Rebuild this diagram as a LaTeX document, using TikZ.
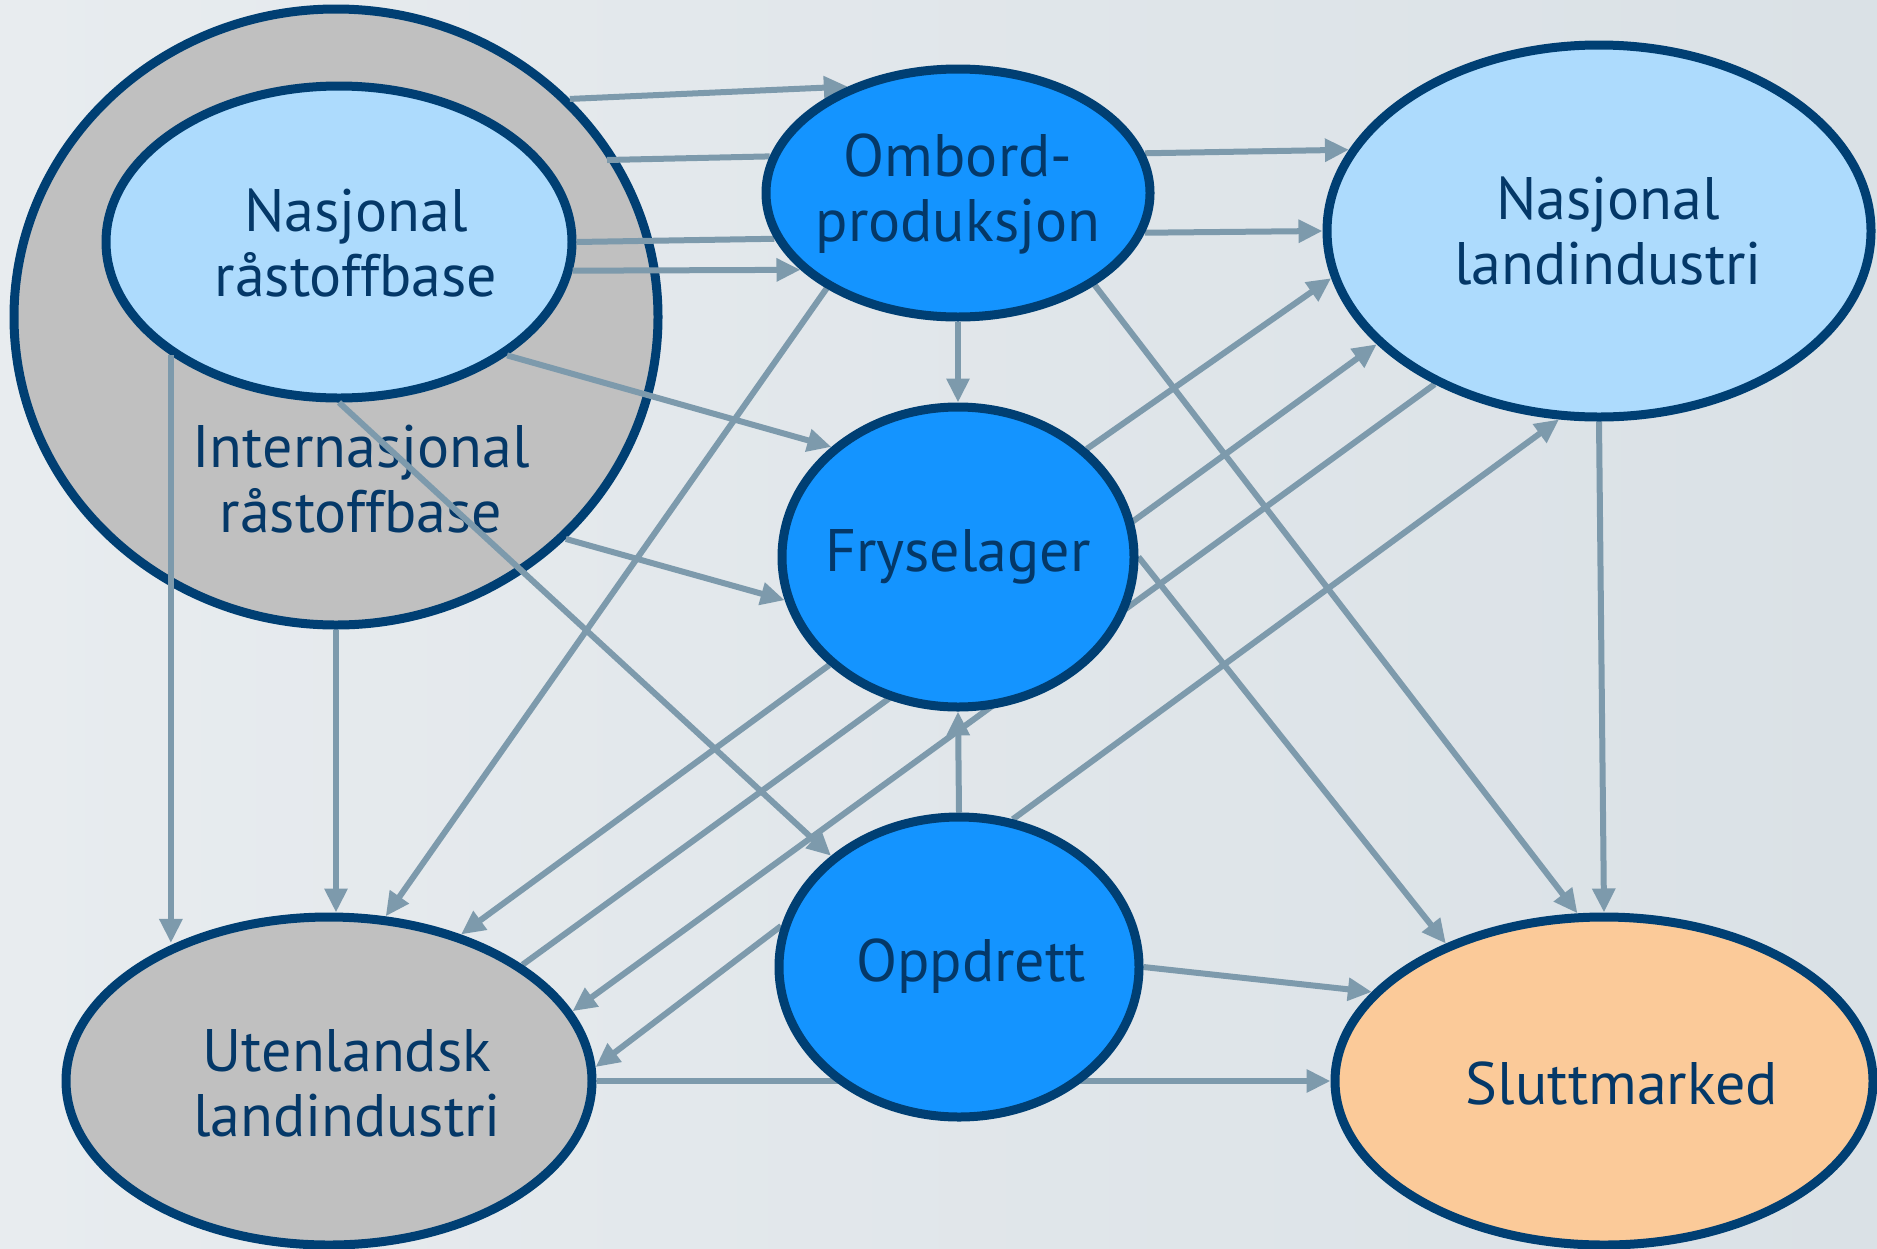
\documentclass[tikz,border=0pt]{standalone}
\usepackage{fontspec}
\setmainfont{PT Sans}
\usetikzlibrary{shapes.geometric,arrows.meta}
\pgfdeclarelayer{bg}
\pgfdeclarelayer{low}
\pgfdeclarelayer{mid}
\pgfsetlayers{bg,low,mid,main}
\definecolor{navy}{RGB}{0,63,115}
\definecolor{greyfill}{RGB}{192,192,192}
\definecolor{lightblue}{RGB}{173,219,253}
\definecolor{midblue}{RGB}{20,148,255}
\definecolor{peach}{RGB}{251,202,153}
\definecolor{link}{RGB}{125,154,172}
\definecolor{txt}{RGB}{4,56,104}
\definecolor{bgleft}{RGB}{232,236,239}
\definecolor{bgmid}{RGB}{247,248,249}
\definecolor{bgright}{RGB}{218,225,230}
\begin{document}
\begin{tikzpicture}[x=0.5pt,y=-0.5pt,
  blob/.style={ellipse, draw=navy, line width=4.5pt, inner sep=0pt},
  lbl/.style={text=txt, font=\fontsize{30}{32.5}\selectfont, align=center, inner sep=0pt},
  conn/.style={draw=link, line width=3pt, -{Triangle[length=12pt,width=11pt]}},
  plainconn/.style={draw=link, line width=3pt}]
\begin{pgfonlayer}{bg}
\shade[left color=bgleft, middle color=bgmid, right color=bgright] (0,0) rectangle (1877,1248);
\end{pgfonlayer}
\useasboundingbox (0,0) rectangle (1877,1248);
\begin{pgfonlayer}{low}
\node[blob, fill=greyfill, minimum width=322pt, minimum height=308pt] (intl) at (336,317) {};
\node[blob, fill=lightblue, minimum width=233pt, minimum height=156pt] (natraw) at (339,242) {};
\node[lbl] (t-natraw) at (356,243) {Nasjonal\\råstoffbase};
\node[lbl] (t-intl) at (361,479) {Internasjonal\\råstoffbase};
\end{pgfonlayer}
\node[blob, fill=midblue, minimum width=192pt, minimum height=124pt] (ombord) at (958,193) {};
\node[blob, fill=lightblue, minimum width=272pt, minimum height=186pt] (natland) at (1599,231) {};
\node[blob, fill=midblue, minimum width=176pt, minimum height=150pt] (frys) at (958,557) {};
\node[blob, fill=midblue, minimum width=180pt, minimum height=150pt] (oppdrett) at (959,967) {};
\node[blob, fill=greyfill, minimum width=263pt, minimum height=164pt] (utenl) at (329,1081) {};
\node[blob, fill=peach, minimum width=269pt, minimum height=164pt] (slutt) at (1604,1081) {};
\node[lbl] (t-ombord) at (958,194) {Ombord-\\produksjon};
\node[lbl] (t-natland) at (1608,231) {Nasjonal\\landindustri};
\node[lbl] (t-frys) at (958,557) {Fryselager};
\node[lbl] (t-oppdrett) at (971,966) {Oppdrett};
\node[lbl] (t-utenl) at (347,1083) {Utenlandsk\\landindustri};
\node[lbl] (t-slutt) at (1622,1083) {Sluttmarked};
\coordinate (ring1) at (607,160);
\begin{pgfonlayer}{mid}
\draw[conn] (intl.43.8) -- (ombord.136.4);
\draw[plainconn] (ring1) -- (ombord.169.6);
\draw[plainconn] (natraw.0) -- (ombord.194.3);
\draw[conn] (natraw.-7.3) -- (ombord.206);
\draw[conn] (ombord.12.5) -- (natland.162);
\draw[conn] (ombord.-12.8) -- (natland.180);
\draw[conn] (ombord.-90) -- (frys.90);
\draw[conn] (ombord.216.6) -- (utenl.71.9);
\draw[conn] (ombord.-34) -- (slutt.99);
\draw[conn] (natraw.-34) -- (frys.139.2);
\draw[conn] (natraw.-90) -- (oppdrett.139.4);
\draw[conn] (natraw.214.6) -- (natraw.214.6 |- utenl.138.3);
\draw[conn] (intl.-90) -- (intl.-90 |- utenl.90);
\draw[conn] (intl.-44.1) -- (frys.194.7);
\draw[conn] (frys.40.6) -- (natland.190.8);
\draw[conn] (utenl.31.8) -- (natland.207.6);
\draw[conn] (frys.-0.7) -- (slutt.139.9);
\draw[conn] (natland.223.7) -- (utenl.16.1);
\draw[conn] (frys.220.3) -- (utenl.48);
\draw[conn] (oppdrett.70.5) -- (natland.258.3);
\draw[conn] (oppdrett.167.3) -- (utenl.3.9);
\draw[conn] (oppdrett.90) -- (frys.-90);
\draw[conn] (oppdrett.0) -- (slutt.159.5);
\draw[conn] (utenl.0) -- (slutt.180);
\draw[conn] (natland.-90) -- (slutt.90);
\end{pgfonlayer}
\end{tikzpicture}
\end{document}
